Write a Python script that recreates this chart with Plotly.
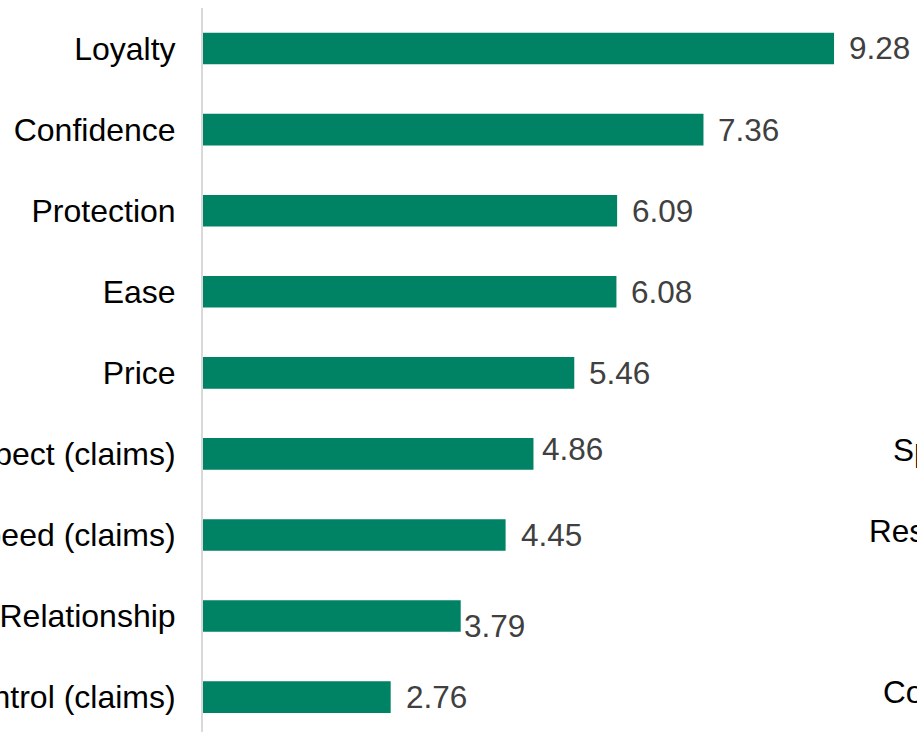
import plotly.graph_objects as go

# Driver scores, listed top to bottom
categories = [
    "Loyalty",
    "Confidence",
    "Protection",
    "Ease",
    "Price",
    "Respect (claims)",
    "Speed (claims)",
    "Relationship",
    "Control (claims)",
]
scores = [9.28, 7.36, 6.09, 6.08, 5.46, 4.86, 4.45, 3.79, 2.76]

# Category labels of the neighbouring panel on the right
side_labels = ["Speed (claims)", "Respect (claims)", "Control (claims)"]

# Per-label nudges for the value labels (pixels: right, down)
label_dx = [13, 13, 13, 13, 13, 7, 13, 1, 13]
label_dy = [-1, 0, 0, 0, 0, -5, 0, 10, 0]

BAR_COLOR = "#008264"
FONT = "Liberation Sans, Arial, sans-serif"
FS = 31.5
TICK_FS = 32

fig = go.Figure(
    go.Bar(
        x=scores,
        y=categories,
        orientation="h",
        marker=dict(color=BAR_COLOR, line=dict(width=0)),
        width=0.39,
        hoverinfo="x+y",
    )
)

# Value labels beside each bar
for cat, val, dx, dy in zip(categories, scores, label_dx, label_dy):
    fig.add_annotation(
        x=val, y=cat, xref="x", yref="y",
        text=f"{val:.2f}",
        showarrow=False,
        xanchor="left", yanchor="middle",
        xshift=dx, yshift=-dy,
        font=dict(family=FONT, size=FS, color="#404040"),
    )

# Labels of the adjacent panel, running off the right edge
side_pos = [(1.0116, 0.3895), (0.9766, 0.2776), (0.9966, 0.0546)]
for txt, (px, py) in zip(side_labels, side_pos):
    fig.add_annotation(
        x=px, y=py, xref="paper", yref="paper",
        text=txt, showarrow=False,
        xanchor="left", yanchor="middle",
        font=dict(family=FONT, size=FS, color="#000000"),
    )

fig.update_layout(
    width=917,
    height=732,
    margin=dict(l=203, r=34, t=8, b=0, autoexpand=False),
    paper_bgcolor="white",
    plot_bgcolor="white",
    showlegend=False,
    bargap=0.6,
    font=dict(family=FONT, size=FS, color="#000000"),
    xaxis=dict(
        range=[0, 10],
        visible=False,
        showgrid=False,
        zeroline=False,
    ),
    yaxis=dict(
        categoryorder="array",
        categoryarray=categories,
        range=[8.43, -0.5],
        autorange=False,
        showline=True,
        linecolor="#d9d9d9",
        linewidth=2,
        showgrid=False,
        zeroline=False,
        ticks="",
        ticklabelstandoff=19,
        automargin=False,
        tickfont=dict(family=FONT, size=TICK_FS, color="#000000"),
    ),
)

fig.write_html("out.html")
